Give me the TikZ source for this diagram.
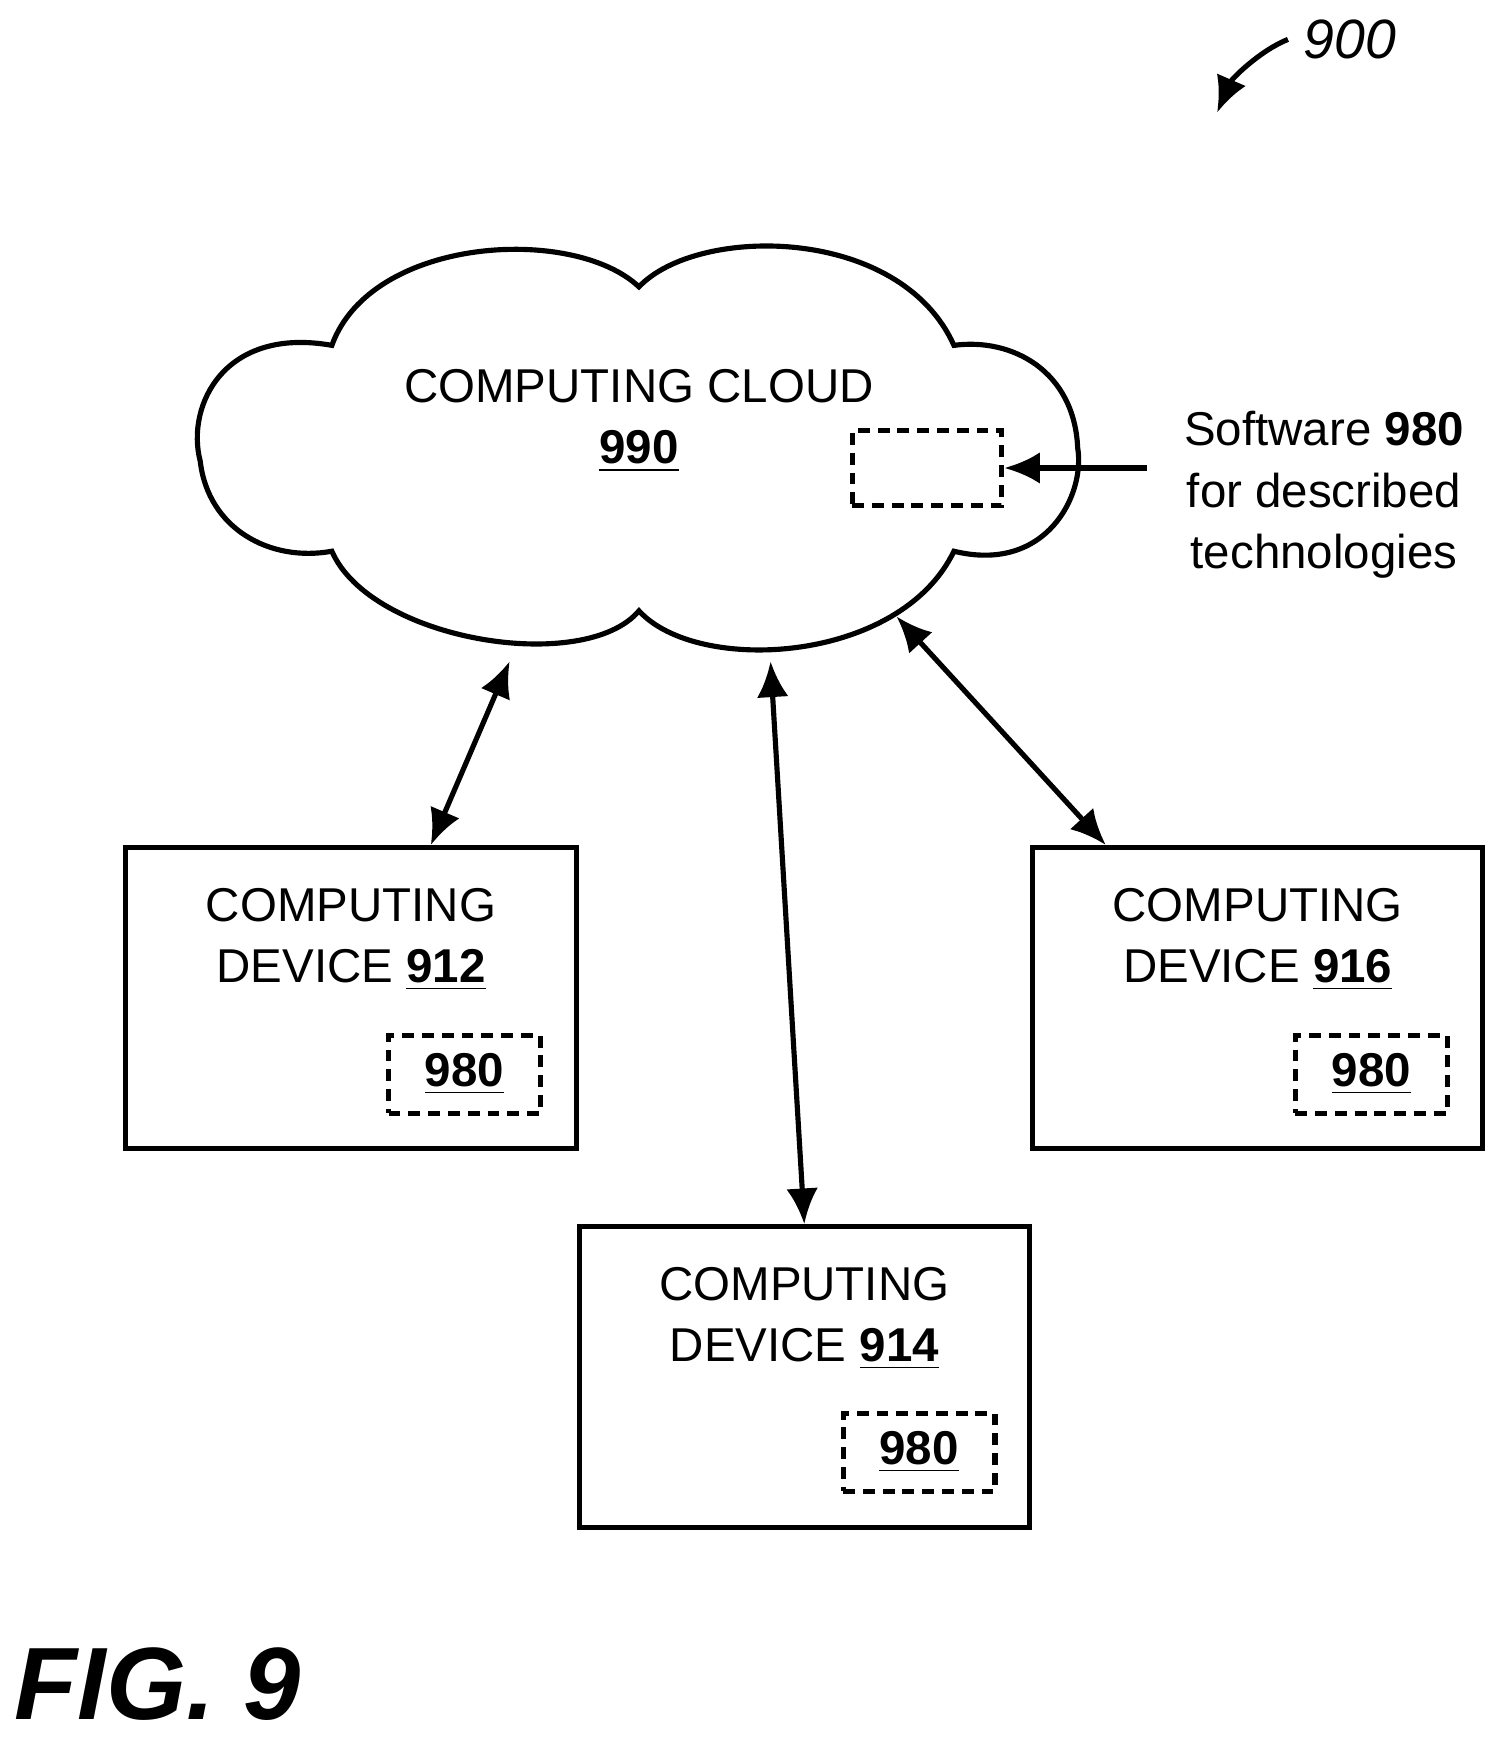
\documentclass[tikz,border=0pt]{standalone}
\usepackage{fontspec}
\setmainfont{Liberation Sans}
\usetikzlibrary{positioning,arrows.meta}

\begin{document}
\begin{tikzpicture}[
x=0.01cm, y=-0.01cm,
line width=1.3pt,
txt/.style={
  font=\fontsize{12}{15.5}\selectfont,
  align=center
  },
dev/.style={
  draw,
  minimum width=4.0cm,
  minimum height=2.67cm
  },
sw/.style={
  draw,
  dashed,
  dash pattern=on 3pt off 2pt,
  minimum width=1.35cm,
  minimum height=0.69cm,
  font=\fontsize{12}{14}\selectfont\bfseries
  },
>={Latex[length=9pt,width=8pt]}
]
\useasboundingbox (0,0) rectangle (1330,1553);

% cloud
\draw (295,307) .. controls (200,290) and (165,360) .. (178,410)
  .. controls (185,470) and (240,500) .. (295,490)
  .. controls (330,570) and (520,600) .. (568,543)
  .. controls (620,600) and (800,590) .. (848,490)
  .. controls (930,510) and (965,440) .. (958,398)
  .. controls (955,330) and (900,300) .. (848,307)
  .. controls (800,200) and (620,200) .. (568,255)
  .. controls (510,200) and (330,210) .. (295,307) -- cycle;
\node[txt] (cloud) at (568,374) {COMPUTING CLOUD\\\textbf{\underline{990}}};
\node[sw, minimum width=1.33cm, minimum height=0.66cm] (cloudsw) at (824,416) {};
\node[txt] (soft) at (1177,440)
  {Software \textbf{980}\\for described\\technologies};
\coordinate (softin) at (1020,416);
\draw[->] (softin) -- (cloudsw.east);

% devices
\node[dev] (d912) at (312,887) {};
\node[txt] at (312,835) {COMPUTING\\DEVICE \textbf{\underline{912}}};
\node[sw] (s912) at (413,955) {\underline{980}};
\node[dev] (d916) at (1118,887) {};
\node[txt] at (1118,835) {COMPUTING\\DEVICE \textbf{\underline{916}}};
\node[sw] (s916) at (1219,955) {\underline{980}};
\node[dev] (d914) at (715,1224) {};
\node[txt] at (715,1172) {COMPUTING\\DEVICE \textbf{\underline{914}}};
\node[sw] (s914) at (817,1291) {\underline{980}};

% links
\coordinate (c1) at (453,588);
\coordinate (c2) at (685,588);
\coordinate (c3) at (797,548);
\draw[<->] (c1) -- (d912.north -| 383,0);
\draw[<->] (c2) -- (d914.north -| 715,0);
\draw[<->] (c3) -- (d916.north -| 983,0);

% figure number
\node[font=\fontsize{14}{17}\selectfont\itshape] (ref) at (1200,35) {900};
\coordinate (refend) at (1082,100);
\draw[->] (ref.west) .. controls (1120,45) and (1095,70) .. (refend);
\node[font=\fontsize{26}{30}\selectfont\bfseries\itshape] (fig) at (140,1497) {FIG. 9};
\end{tikzpicture}
\end{document}
